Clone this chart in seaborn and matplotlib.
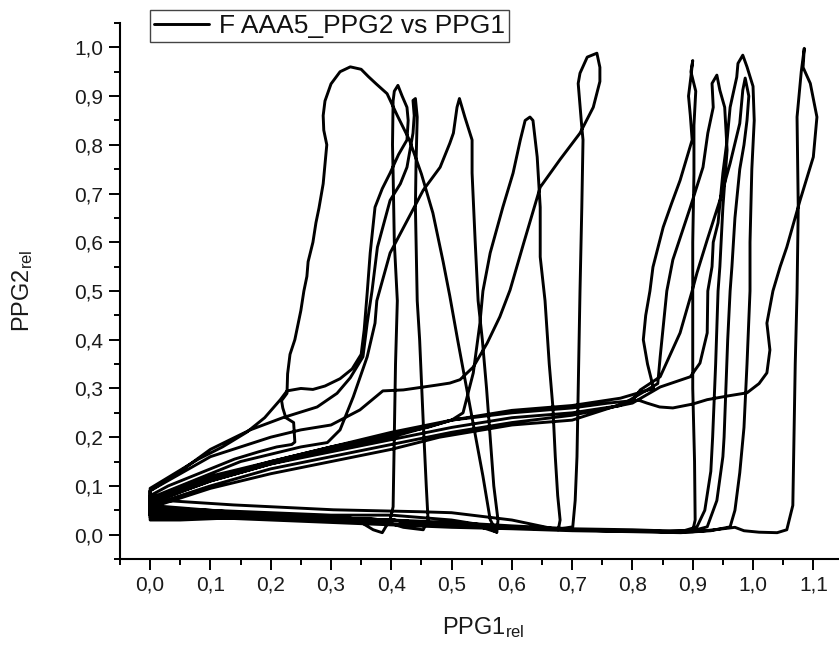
import numpy as np
import pandas as pd
import matplotlib
matplotlib.use("Agg")
import matplotlib.pyplot as plt
import seaborn as sns
from matplotlib.ticker import MultipleLocator, FuncFormatter

# ---- data: one continuous PPG1 vs PPG2 trajectory, split per beat ----
beat1_x = [0.0, 0.03, 0.06, 0.10, 0.14, 0.18, 0.21, 0.235, 0.24, 0.238, 0.225, 0.22, 0.218, 0.227, 0.228, 0.232, 0.24, 0.25, 0.255, 0.26, 0.262, 0.27, 0.275, 0.28, 0.287, 0.29, 0.293, 0.288, 0.287, 0.29, 0.30, 0.315, 0.332, 0.35, 0.362, 0.375, 0.393, 0.41, 0.43, 0.45, 0.469, 0.486, 0.497, 0.51, 0.525, 0.54, 0.552, 0.564, 0.575, 0.55, 0.50, 0.45, 0.40, 0.30, 0.20, 0.10, 0.05, 0.0]
beat1_y = [0.08, 0.10, 0.115, 0.135, 0.155, 0.17, 0.18, 0.185, 0.19, 0.23, 0.24, 0.26, 0.275, 0.29, 0.33, 0.37, 0.40, 0.46, 0.50, 0.53, 0.56, 0.60, 0.64, 0.67, 0.72, 0.76, 0.80, 0.83, 0.86, 0.89, 0.925, 0.95, 0.96, 0.955, 0.94, 0.925, 0.905, 0.86, 0.81, 0.74, 0.66, 0.56, 0.49, 0.40, 0.30, 0.20, 0.12, 0.031, 0.005, 0.02, 0.03, 0.035, 0.04, 0.04, 0.045, 0.05, 0.055, 0.06]

beat2_x = [0.0, 0.04, 0.08, 0.12, 0.16, 0.19, 0.216, 0.227, 0.25, 0.27, 0.29, 0.315, 0.335, 0.35, 0.355, 0.36, 0.365, 0.373, 0.385, 0.398, 0.412, 0.426, 0.428, 0.426, 0.418, 0.411, 0.405, 0.403, 0.402, 0.403, 0.405, 0.41, 0.407, 0.405, 0.403, 0.398, 0.385, 0.37, 0.35, 0.30, 0.20, 0.10, 0.0]
beat2_y = [0.095, 0.125, 0.155, 0.18, 0.21, 0.24, 0.277, 0.295, 0.30, 0.298, 0.305, 0.32, 0.34, 0.37, 0.42, 0.496, 0.578, 0.672, 0.71, 0.742, 0.78, 0.81, 0.85, 0.877, 0.90, 0.922, 0.91, 0.89, 0.80, 0.742, 0.60, 0.48, 0.35, 0.20, 0.057, 0.031, 0.004, 0.01, 0.025, 0.03, 0.035, 0.04, 0.045]

beat3_x = [0.0, 0.05, 0.10, 0.166, 0.22, 0.277, 0.31, 0.332, 0.353, 0.36, 0.368, 0.377, 0.398, 0.415, 0.426, 0.436, 0.438, 0.436, 0.44, 0.443, 0.441, 0.44, 0.443, 0.447, 0.453, 0.458, 0.461, 0.453, 0.42, 0.38, 0.30, 0.20, 0.10, 0.0]
beat3_y = [0.09, 0.13, 0.175, 0.215, 0.24, 0.262, 0.29, 0.322, 0.365, 0.434, 0.50, 0.59, 0.686, 0.72, 0.754, 0.824, 0.86, 0.891, 0.895, 0.857, 0.76, 0.672, 0.48, 0.40, 0.23, 0.10, 0.03, 0.01, 0.015, 0.03, 0.035, 0.04, 0.045, 0.05]

beat4_x = [0.0, 0.05, 0.10, 0.15, 0.20, 0.25, 0.294, 0.315, 0.337, 0.36, 0.373, 0.376, 0.398, 0.453, 0.481, 0.497, 0.503, 0.509, 0.513, 0.522, 0.534, 0.534, 0.539, 0.544, 0.551, 0.558, 0.564, 0.57, 0.577, 0.575, 0.55, 0.50, 0.45, 0.40, 0.30, 0.20, 0.10, 0.0]
beat4_y = [0.075, 0.10, 0.125, 0.15, 0.165, 0.18, 0.189, 0.215, 0.283, 0.365, 0.434, 0.48, 0.578, 0.707, 0.754, 0.803, 0.824, 0.877, 0.895, 0.857, 0.81, 0.742, 0.605, 0.48, 0.40, 0.30, 0.20, 0.10, 0.03, 0.005, 0.015, 0.02, 0.025, 0.03, 0.035, 0.04, 0.045, 0.04]

beat5_x = [0.0, 0.05, 0.10, 0.20, 0.30, 0.40, 0.46, 0.50, 0.519, 0.536, 0.547, 0.552, 0.564, 0.585, 0.602, 0.614, 0.622, 0.63, 0.635, 0.642, 0.647, 0.647, 0.655, 0.662, 0.668, 0.672, 0.676, 0.68, 0.677, 0.60, 0.50, 0.448, 0.304, 0.138, 0.0]
beat5_y = [0.07, 0.095, 0.12, 0.15, 0.18, 0.205, 0.22, 0.235, 0.25, 0.332, 0.434, 0.50, 0.578, 0.672, 0.742, 0.81, 0.85, 0.857, 0.85, 0.775, 0.672, 0.57, 0.48, 0.35, 0.262, 0.16, 0.08, 0.03, 0.01, 0.03, 0.045, 0.047, 0.051, 0.061, 0.072]

beat6_x = [0.0, 0.05, 0.10, 0.15, 0.20, 0.25, 0.30, 0.348, 0.386, 0.42, 0.476, 0.497, 0.514, 0.536, 0.559, 0.58, 0.597, 0.62, 0.647, 0.68, 0.713, 0.735, 0.746, 0.746, 0.741, 0.725, 0.713, 0.71, 0.716, 0.718, 0.716, 0.713, 0.71, 0.708, 0.705, 0.701, 0.68, 0.60, 0.50, 0.40, 0.30, 0.20, 0.10, 0.0]
beat6_y = [0.09, 0.125, 0.16, 0.18, 0.20, 0.215, 0.225, 0.256, 0.295, 0.297, 0.307, 0.311, 0.318, 0.344, 0.393, 0.447, 0.502, 0.60, 0.713, 0.77, 0.824, 0.877, 0.93, 0.959, 0.988, 0.98, 0.947, 0.926, 0.836, 0.81, 0.672, 0.50, 0.30, 0.16, 0.07, 0.016, 0.012, 0.015, 0.02, 0.03, 0.035, 0.04, 0.05, 0.055]

beat7_x = [0.0, 0.05, 0.10, 0.20, 0.30, 0.40, 0.50, 0.60, 0.70, 0.78, 0.835, 0.825, 0.818, 0.822, 0.829, 0.834, 0.851, 0.865, 0.879, 0.899, 0.896, 0.893, 0.897, 0.90, 0.897, 0.905, 0.902, 0.902, 0.90, 0.90, 0.90, 0.903, 0.904, 0.90, 0.85, 0.80, 0.70, 0.60, 0.50, 0.40, 0.30, 0.20, 0.10, 0.0]
beat7_y = [0.07, 0.09, 0.115, 0.15, 0.18, 0.21, 0.235, 0.255, 0.265, 0.28, 0.30, 0.35, 0.40, 0.45, 0.50, 0.549, 0.631, 0.68, 0.727, 0.81, 0.86, 0.90, 0.94, 0.973, 0.95, 0.91, 0.84, 0.74, 0.60, 0.48, 0.30, 0.15, 0.03, 0.008, 0.008, 0.01, 0.012, 0.018, 0.025, 0.03, 0.035, 0.04, 0.045, 0.045]

beat8_x = [0.0, 0.10, 0.20, 0.30, 0.40, 0.50, 0.60, 0.70, 0.78, 0.842, 0.846, 0.857, 0.867, 0.896, 0.917, 0.925, 0.934, 0.932, 0.94, 0.945, 0.953, 0.957, 0.95, 0.945, 0.942, 0.938, 0.933, 0.93, 0.92, 0.907, 0.88, 0.80, 0.70, 0.60, 0.50, 0.40, 0.30, 0.20, 0.10, 0.0]
beat8_y = [0.065, 0.11, 0.145, 0.17, 0.195, 0.22, 0.24, 0.25, 0.265, 0.31, 0.365, 0.50, 0.564, 0.672, 0.754, 0.824, 0.877, 0.926, 0.943, 0.912, 0.877, 0.789, 0.672, 0.55, 0.50, 0.35, 0.20, 0.13, 0.05, 0.016, 0.006, 0.008, 0.01, 0.015, 0.02, 0.03, 0.03, 0.035, 0.04, 0.04]

beat9_x = [0.0, 0.10, 0.20, 0.30, 0.40, 0.50, 0.60, 0.70, 0.80, 0.846, 0.896, 0.912, 0.924, 0.925, 0.932, 0.934, 0.942, 0.95, 0.957, 0.962, 0.973, 0.975, 0.983, 0.99, 1.0, 1.002, 0.998, 0.995, 0.995, 0.99, 0.985, 0.978, 0.97, 0.962, 0.93, 0.88, 0.80, 0.70, 0.60, 0.50, 0.40, 0.30, 0.20, 0.10, 0.0]
beat9_y = [0.06, 0.10, 0.135, 0.16, 0.185, 0.21, 0.23, 0.245, 0.27, 0.303, 0.324, 0.352, 0.414, 0.50, 0.55, 0.60, 0.64, 0.742, 0.81, 0.877, 0.939, 0.967, 0.984, 0.96, 0.92, 0.85, 0.75, 0.60, 0.50, 0.35, 0.22, 0.127, 0.05, 0.016, 0.008, 0.004, 0.006, 0.008, 0.012, 0.015, 0.02, 0.025, 0.03, 0.035, 0.035]

beat10_x = [0.0, 0.10, 0.20, 0.30, 0.40, 0.48, 0.60, 0.70, 0.80, 0.813, 0.846, 0.879, 0.899, 0.907, 0.924, 0.945, 0.962, 0.978, 0.983, 0.987, 0.993, 0.99, 0.985, 0.978, 0.97, 0.965, 0.962, 0.958, 0.955, 0.952, 0.95, 0.94, 0.924, 0.90, 0.85, 0.75, 0.65, 0.55, 0.45, 0.35, 0.25, 0.15, 0.05, 0.0]
beat10_y = [0.055, 0.095, 0.125, 0.15, 0.175, 0.20, 0.225, 0.235, 0.275, 0.297, 0.324, 0.414, 0.50, 0.537, 0.605, 0.686, 0.762, 0.844, 0.912, 0.937, 0.90, 0.85, 0.80, 0.75, 0.65, 0.55, 0.50, 0.40, 0.30, 0.20, 0.16, 0.07, 0.016, 0.008, 0.006, 0.008, 0.012, 0.015, 0.02, 0.025, 0.03, 0.035, 0.03, 0.03]

beat11_x = [0.0, 0.10, 0.20, 0.30, 0.40, 0.50, 0.60, 0.70, 0.76, 0.81, 0.824, 0.845, 0.867, 0.90, 0.924, 0.96, 0.99, 1.01, 1.023, 1.028, 1.023, 1.033, 1.045, 1.056, 1.078, 1.10, 1.106, 1.095, 1.083, 1.085, 1.08, 1.073, 1.074, 1.075, 1.073, 1.07, 1.068, 1.066, 1.056, 1.04, 1.01, 0.985, 0.97, 0.95, 0.92, 0.90, 0.85, 0.80, 0.70, 0.60, 0.50, 0.40, 0.30, 0.20, 0.10, 0.0]
beat11_y = [0.065, 0.11, 0.145, 0.175, 0.20, 0.235, 0.25, 0.26, 0.27, 0.276, 0.27, 0.262, 0.26, 0.268, 0.277, 0.285, 0.291, 0.31, 0.332, 0.379, 0.434, 0.50, 0.55, 0.59, 0.686, 0.775, 0.857, 0.926, 0.959, 0.998, 0.95, 0.857, 0.76, 0.672, 0.496, 0.35, 0.20, 0.06, 0.01, 0.004, 0.005, 0.008, 0.015, 0.012, 0.008, 0.006, 0.006, 0.008, 0.01, 0.015, 0.02, 0.03, 0.035, 0.04, 0.045, 0.05]

beats_x = [beat1_x, beat2_x, beat3_x, beat4_x, beat5_x, beat6_x,
           beat7_x, beat8_x, beat9_x, beat10_x, beat11_x]
beats_y = [beat1_y, beat2_y, beat3_y, beat4_y, beat5_y, beat6_y,
           beat7_y, beat8_y, beat9_y, beat10_y, beat11_y]

series_label = "F AAA5_PPG2 vs PPG1"
x_label = r"PPG1$_\mathregular{rel}$"
y_label = r"PPG2$_\mathregular{rel}$"

df = pd.DataFrame({
    "PPG1": np.concatenate([np.asarray(b, float) for b in beats_x]),
    "PPG2": np.concatenate([np.asarray(b, float) for b in beats_y]),
})

# ---- style ----
sns.set_style("ticks")
plt.rcParams["font.family"] = ["Liberation Sans", "DejaVu Sans"]
plt.rcParams["mathtext.fontset"] = "custom"
plt.rcParams["mathtext.rm"] = "Liberation Sans"
plt.rcParams["mathtext.default"] = "regular"

W, H = 839, 649
fig = plt.figure(figsize=(W / 100, H / 100), dpi=100)
ax = fig.add_axes([120 / W, 90 / H, 719 / W, 536 / H])

sns.lineplot(data=df, x="PPG1", y="PPG2", sort=False, estimator=None,
             color="black", lw=2.1, ax=ax, label=series_label, legend=False)

ax.set_xlim(-0.05, 1.1426)
ax.set_ylim(-0.05, 1.05)

fmt = FuncFormatter(lambda v, p: f"{0.0 if abs(v) < 1e-9 else v:.1f}".replace(".", ","))
ax.xaxis.set_major_locator(MultipleLocator(0.1))
ax.xaxis.set_minor_locator(MultipleLocator(0.05))
ax.yaxis.set_major_locator(MultipleLocator(0.1))
ax.yaxis.set_minor_locator(MultipleLocator(0.05))
ax.xaxis.set_major_formatter(fmt)
ax.yaxis.set_major_formatter(fmt)

ax.tick_params(which="major", length=8, width=1.4, direction="out",
               labelsize=15, pad=4, color="black", labelcolor="#1a1a1a")
ax.tick_params(which="minor", length=4, width=1.4, direction="out", color="black")

for s in ("top", "right"):
    ax.spines[s].set_visible(False)
for s in ("left", "bottom"):
    ax.spines[s].set_linewidth(1.5)
    ax.spines[s].set_color("black")

ax.set_xlabel(x_label, fontsize=17, color="#1a1a1a")
ax.set_ylabel(y_label, fontsize=17, color="#1a1a1a")
ax.xaxis.set_label_coords(0.505, -0.105)
ax.yaxis.set_label_coords(-0.118, 0.5)

handles, labels = ax.get_legend_handles_labels()
leg = ax.legend(handles, labels, loc="upper left",
                bbox_to_anchor=(30 / 719, (559 - 10) / 536), borderaxespad=0,
                frameon=True, fancybox=False, framealpha=1, edgecolor="#444444",
                fontsize=19, handlelength=2.1, handletextpad=0.35, borderpad=0.15)
leg.get_frame().set_linewidth(1.0)
for t in leg.get_texts():
    t.set_color("#111111")

fig.savefig("out.png", dpi=100)
